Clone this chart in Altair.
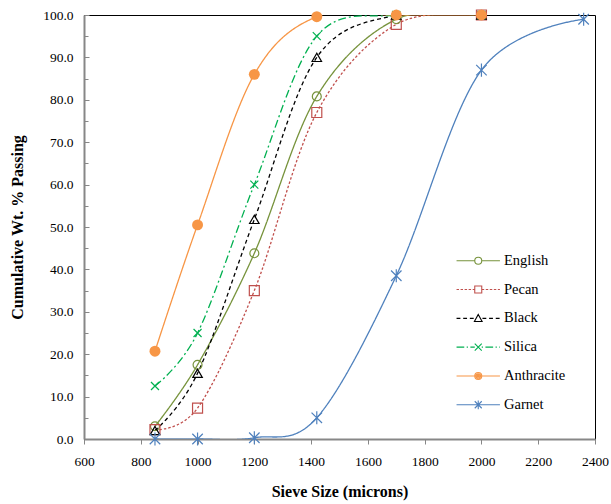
import altair as alt
import pandas as pd

# ---- data ----
series_names = ["English", "Pecan", "Black", "Silica", "Anthracite", "Garnet"]
sizes = [850, 1000, 1200, 1420, 1700, 2000]
garnet_sizes = [850, 1000, 1200, 1420, 1700, 2000, 2360]
english = [3.0, 17.5, 43.8, 80.8, 99.0, 100.0]
pecan = [2.2, 7.3, 35.0, 77.0, 97.8, 100.0]
black = [2.0, 15.5, 51.8, 90.0, 100.0, 100.0]
silica = [12.5, 25.0, 60.0, 95.0, 100.0, 100.0]
anthracite = [20.7, 50.5, 86.0, 99.6, 100.0, 100.0]
garnet = [0.0, 0.0, 0.3, 5.0, 38.5, 87.0, 99.0]

x_ticks = list(range(600, 2401, 200))
y_ticks = list(range(0, 101, 10))
y_minor = list(range(5, 100, 10))

colors = ["#77933C", "#C0504D", "#000000", "#00B050", "#F79646", "#4F81BD"]
dashes = [[1, 0], [2.5, 2], [4, 3], [8, 3, 2, 3], [1, 0], [1, 0]]

rows = []
for name, xs, vals in [("English", sizes, english), ("Pecan", sizes, pecan),
                       ("Black", sizes, black), ("Silica", sizes, silica),
                       ("Anthracite", sizes, anthracite), ("Garnet", garnet_sizes, garnet)]:
    for s, v in zip(xs, vals):
        rows.append({"series": name, "size": s, "pct": v})
df = pd.DataFrame(rows)

# ---- marker shapes ----
X_PATH = "M-1,-1L1,1M-1,1L1,-1"
AST_PATH = "M-1,-1L1,1M-1,1L1,-1M0,-1.25L0,1.25"


def circle(r):
    return f"M{r},0A{r},{r},0,1,1,{-r},0A{r},{r},0,1,1,{r},0"


def dashed(a, b, pattern):
    """horizontal dashed line segments from a to b (legend symbol units)"""
    out = []
    x = a
    i = 0
    while x < b - 1e-6:
        seg = pattern[i % len(pattern)]
        if i % 2 == 0:
            out.append(f"M{x:.2f},0H{min(b, x + seg):.2f}")
        x += seg
        i += 1
    return "".join(out)


L = 6.2
legend_paths = [
    f"M{-L},0H-1M1,0H{L}" + circle(1),
    dashed(-L, -1, [0.7, 0.45]) + dashed(1, L, [0.7, 0.45]) + "M-1,-1H1V1H-1Z",
    dashed(-L, -1.2, [1.1, 0.8]) + dashed(1.2, L, [1.1, 0.8]) + "M0,-1.1L1.1,0.9H-1.1Z",
    dashed(-L, -1, [2.2, 0.7, 0.35, 0.7]) + dashed(1, L, [0.35, 0.7, 2.2, 0.7]) + X_PATH,
    f"M{-L},0H{L}" + circle(1) + circle(0.65) + circle(0.3),
    f"M{-L},0H{L}" + AST_PATH,
]

marker_specs = {
    "English": dict(shape="circle", size=80, filled=False),
    "Pecan": dict(shape="square", size=100, filled=False),
    "Black": dict(shape="triangle-up", size=90, filled=False),
    "Silica": dict(shape=X_PATH, size=64, filled=False),
    "Anthracite": dict(shape="circle", size=120, filled=True),
    "Garnet": dict(shape=AST_PATH, size=110, filled=False),
}

xscale = alt.Scale(domain=[600, 2400], nice=False, zero=False)
yscale = alt.Scale(domain=[0, 100], nice=False)
cscale = alt.Scale(domain=series_names, range=colors)

FONT = "Liberation Serif"
AXIS_GRAY = "#878787"

x_axis = alt.Axis(values=x_ticks, format="d", title="Sieve Size (microns)", grid=False,
                  domainColor=AXIS_GRAY, domainWidth=2, tickColor=AXIS_GRAY,
                  tickSize=5, tickWidth=1, labelPadding=10, titlePadding=16,
                  labelFlush=False, labelOverlap=False,
                  labelFont=FONT, labelFontSize=13.5, labelColor="#000000",
                  titleFont=FONT, titleFontSize=16, titleFontWeight="bold",
                  titleColor="#000000")


def xenc():
    return alt.X("size:Q", scale=xscale, axis=x_axis)


y_main = alt.Y("pct:Q", scale=yscale,
               axis=alt.Axis(values=y_ticks, format=".1f", title="Cumulative Wt. % Passing",
                             grid=False, ticks=False, domainColor=AXIS_GRAY, domainWidth=2,
                             labelPadding=11, titlePadding=17, labelFlush=False,
                             labelOverlap=False,
                             labelFont=FONT, labelFontSize=13.5, labelColor="#000000",
                             titleFont=FONT, titleFontSize=16, titleFontWeight="bold",
                             titleColor="#000000"))
y_major_in = alt.Y("pct:Q", scale=yscale,
                   axis=alt.Axis(orient="right", offset=-511, values=y_ticks, labels=False,
                                 domain=False, grid=False, tickSize=5, tickColor=AXIS_GRAY,
                                 tickWidth=1, title=None))
y_minor_in = alt.Y("pct:Q", scale=yscale,
                   axis=alt.Axis(orient="right", offset=-511, values=y_minor, labels=False,
                                 domain=False, grid=False, tickSize=4, tickColor=AXIS_GRAY,
                                 tickWidth=1, title=None))
y_none = alt.Y("pct:Q", scale=yscale, axis=None)

layers = []
for i, name in enumerate(series_names):
    yl = y_main if i == 0 else y_none
    line = alt.Chart(df).transform_filter(alt.datum.series == name).mark_line(
        interpolate="cardinal", strokeWidth=1.3, clip=True, color=colors[i],
        strokeDash=dashes[i],
    ).encode(x=xenc(), y=yl, order="size:Q")
    layers.append(line)

for i, name in enumerate(series_names):
    spec = marker_specs[name]
    if i == 0:
        yp = y_major_in
    elif i == 1:
        yp = y_minor_in
    else:
        yp = y_none
    pts = alt.Chart(df).transform_filter(alt.datum.series == name).mark_point(
        shape=spec["shape"], size=spec["size"], filled=spec["filled"],
        color=colors[i], strokeWidth=1.2, opacity=1,
    ).encode(x=xenc(), y=yp)
    layers.append(pts)

leg = alt.Legend(title=None, orient="none", legendX=387, legendY=238.5,
                 symbolSize=49, symbolStrokeWidth=1.1, labelFont=FONT,
                 labelFontSize=14.5, labelOffset=18.5, rowPadding=13.8,
                 symbolOpacity=1, labelColor="#000000")

legend_layer = alt.Chart(df).transform_filter("datum.pct < -1000").mark_point(
    filled=False, opacity=1, strokeWidth=1.1
).encode(
    x=xenc(),
    y=y_none,
    color=alt.Color("series:N", scale=cscale, legend=leg),
    shape=alt.Shape("series:N", scale=alt.Scale(domain=series_names, range=legend_paths),
                    legend=leg),
)
layers.append(legend_layer)

chart = alt.layer(*layers).resolve_axis(y="independent").properties(
    width=511, height=424,
    autosize=alt.AutoSizeParams(type="none"),
    padding={"left": 84, "top": 15, "right": 16, "bottom": 65},
).configure_view(stroke="#000000", strokeWidth=1).configure_axis(
    labelFont=FONT, labelFontSize=13.5, labelColor="#000000",
    titleFont=FONT, titleFontSize=16, titleFontWeight="bold", titleColor="#000000",
)

chart.save("out.html", embed_options={"renderer": "svg", "actions": False})
